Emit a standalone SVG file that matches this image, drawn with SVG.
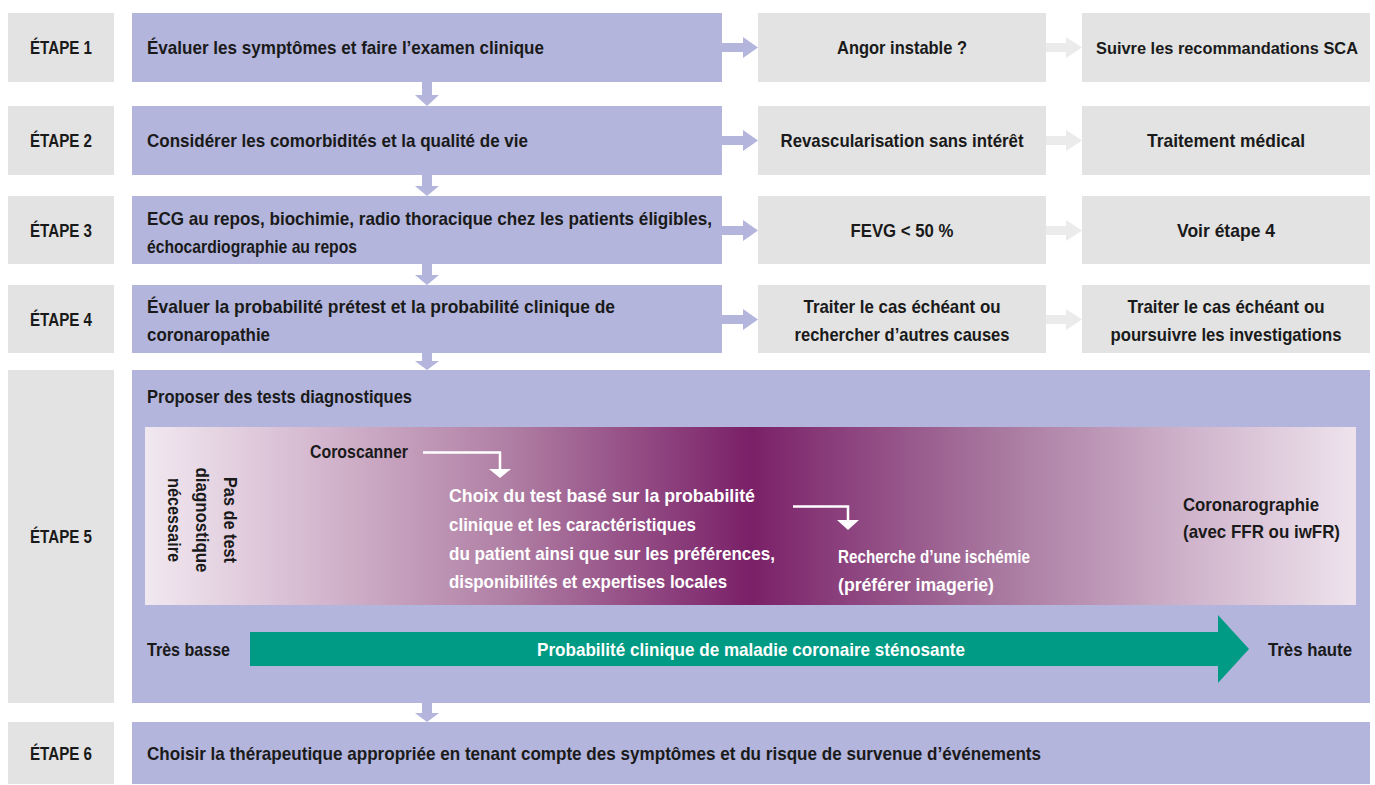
<svg xmlns="http://www.w3.org/2000/svg" width="1375" height="785" viewBox="0 0 1375 785">
<defs>
<linearGradient id="grad" x1="145" y1="0" x2="1356" y2="0" gradientUnits="userSpaceOnUse">
<stop offset="0" stop-color="#f1e8f0"/>
<stop offset="0.13" stop-color="#d7bcd2"/>
<stop offset="0.3" stop-color="#b07fa4"/>
<stop offset="0.5" stop-color="#7a2068"/>
<stop offset="0.7" stop-color="#a7769e"/>
<stop offset="0.87" stop-color="#d1b6cd"/>
<stop offset="1" stop-color="#eee3ed"/>
</linearGradient>
</defs>
<style>
.lab{fill:#e3e3e3}
.main{fill:#b3b5dc}
.opt{fill:#e3e3e3}
.t{font-family:"Liberation Sans",Arial,sans-serif;font-weight:bold;font-size:19px;fill:#1a1a1a}
.w{fill:#ffffff}
.c{text-anchor:middle}
.pa{fill:#b3b5dc}
.ga{fill:#ebebeb}
</style>
<rect width="1375" height="785" fill="#ffffff"/>

<g id="connectors">
<path class="pa" d="M422,82 H432 V95 H439 L427,106 L415,95 H422 Z"/>
<path class="pa" d="M422,175 H432 V186 H439 L427,196 L415,186 H422 Z"/>
<path class="pa" d="M422,264 H432 V275 H439 L427,285 L415,275 H422 Z"/>
<path class="pa" d="M422,353 H432 V361 H439 L427,370 L415,361 H422 Z"/>
<path class="pa" d="M422,703 H432 V713 H439 L427,722 L415,713 H422 Z"/>
<path class="pa" d="M722,43 H743 V37 L758,47.5 L743,58 V52 H722 Z"/>
<path class="pa" d="M722,136 H743 V130 L758,140.5 L743,151 V145 H722 Z"/>
<path class="pa" d="M722,226 H743 V220 L758,230.5 L743,241 V235 H722 Z"/>
<path class="pa" d="M722,315 H743 V309 L758,319.5 L743,330 V324 H722 Z"/>
<path class="ga" d="M1046,43 H1066 V37 L1082,47.5 L1066,58 V52 H1046 Z"/>
<path class="ga" d="M1046,136 H1066 V130 L1082,140.5 L1066,151 V145 H1046 Z"/>
<path class="ga" d="M1046,226 H1066 V220 L1082,230.5 L1066,241 V235 H1046 Z"/>
<path class="ga" d="M1046,315 H1066 V309 L1082,319.5 L1066,330 V324 H1046 Z"/>
</g>

<g id="etape1">
<rect class="lab" x="8" y="13" width="106" height="69"/>
<text class="t c" x="61" y="54" textLength="62" lengthAdjust="spacingAndGlyphs">ÉTAPE 1</text>
<rect class="main" x="132" y="13" width="590" height="69"/>
<text class="t" x="147" y="54" textLength="397" lengthAdjust="spacingAndGlyphs">Évaluer les symptômes et faire l’examen clinique</text>
</g>
<g id="angor">
<rect class="opt" x="758" y="13" width="288" height="69"/>
<text class="t c" x="902" y="54" textLength="130" lengthAdjust="spacingAndGlyphs">Angor instable ?</text>
</g>
<g id="sca">
<rect class="opt" x="1082" y="13" width="288" height="69"/>
<text class="t c" x="1227" y="54" style="font-size:17px" textLength="262" lengthAdjust="spacingAndGlyphs">Suivre les recommandations SCA</text>
</g>

<g id="etape2">
<rect class="lab" x="8" y="106" width="106" height="69"/>
<text class="t c" x="61" y="147" textLength="62" lengthAdjust="spacingAndGlyphs">ÉTAPE 2</text>
<rect class="main" x="132" y="106" width="590" height="69"/>
<text class="t" x="147" y="147" textLength="381" lengthAdjust="spacingAndGlyphs">Considérer les comorbidités et la qualité de vie</text>
</g>
<g id="revasc">
<rect class="opt" x="758" y="106" width="288" height="69"/>
<text class="t c" x="902" y="147" textLength="243" lengthAdjust="spacingAndGlyphs">Revascularisation sans intérêt</text>
</g>
<g id="traitement">
<rect class="opt" x="1082" y="106" width="288" height="69"/>
<text class="t c" x="1226" y="147" textLength="158" lengthAdjust="spacingAndGlyphs">Traitement médical</text>
</g>

<g id="etape3">
<rect class="lab" x="8" y="196" width="106" height="68"/>
<text class="t c" x="61" y="237" textLength="62" lengthAdjust="spacingAndGlyphs">ÉTAPE 3</text>
<rect class="main" x="132" y="196" width="590" height="68"/>
<text class="t" x="147" y="225" textLength="565" lengthAdjust="spacingAndGlyphs">ECG au repos, biochimie, radio thoracique chez les patients éligibles,</text>
<text class="t" x="147" y="253" textLength="210" lengthAdjust="spacingAndGlyphs">échocardiographie au repos</text>
</g>
<g id="fevg">
<rect class="opt" x="758" y="196" width="288" height="68"/>
<text class="t c" x="902" y="237" textLength="103" lengthAdjust="spacingAndGlyphs">FEVG &lt; 50 %</text>
</g>
<g id="voir4">
<rect class="opt" x="1082" y="196" width="288" height="68"/>
<text class="t c" x="1226" y="237" textLength="98" lengthAdjust="spacingAndGlyphs">Voir étape 4</text>
</g>

<g id="etape4">
<rect class="lab" x="8" y="285" width="106" height="68"/>
<text class="t c" x="61" y="326" textLength="62" lengthAdjust="spacingAndGlyphs">ÉTAPE 4</text>
<rect class="main" x="132" y="285" width="590" height="68"/>
<text class="t" x="147" y="313" textLength="468" lengthAdjust="spacingAndGlyphs">Évaluer la probabilité prétest et la probabilité clinique de</text>
<text class="t" x="147" y="341" textLength="123" lengthAdjust="spacingAndGlyphs">coronaropathie</text>
</g>
<g id="traiter1">
<rect class="opt" x="758" y="285" width="288" height="68"/>
<text class="t c" x="902" y="313" textLength="197" lengthAdjust="spacingAndGlyphs">Traiter le cas échéant ou</text>
<text class="t c" x="902" y="341" textLength="215" lengthAdjust="spacingAndGlyphs">rechercher d’autres causes</text>
</g>
<g id="traiter2">
<rect class="opt" x="1082" y="285" width="288" height="68"/>
<text class="t c" x="1226" y="313" textLength="197" lengthAdjust="spacingAndGlyphs">Traiter le cas échéant ou</text>
<text class="t c" x="1226" y="341" textLength="231" lengthAdjust="spacingAndGlyphs">poursuivre les investigations</text>
</g>

<g id="etape5">
<rect class="lab" x="8" y="370" width="106" height="333"/>
<text class="t c" x="61" y="543" textLength="62" lengthAdjust="spacingAndGlyphs">ÉTAPE 5</text>
<rect class="main" x="132" y="370" width="1238" height="333"/>
<text class="t" x="147" y="403" textLength="265" lengthAdjust="spacingAndGlyphs">Proposer des tests diagnostiques</text>
<rect x="145" y="427" width="1211" height="178" fill="url(#grad)"/>
<text class="t c" transform="translate(224,520) rotate(90)" textLength="86" lengthAdjust="spacingAndGlyphs">Pas de test</text>
<text class="t c" transform="translate(196,520) rotate(90)" textLength="105" lengthAdjust="spacingAndGlyphs">diagnostique</text>
<text class="t c" transform="translate(168,520) rotate(90)" textLength="84" lengthAdjust="spacingAndGlyphs">nécessaire</text>
<text class="t" x="310" y="458" textLength="98" lengthAdjust="spacingAndGlyphs">Coroscanner</text>
<path d="M423,452.5 H500 V470" fill="none" stroke="#ffffff" stroke-width="2.5"/>
<path d="M489,469 H511 L500,478 Z" fill="#ffffff"/>
<text class="t w" x="449" y="502" textLength="306" lengthAdjust="spacingAndGlyphs">Choix du test basé sur la probabilité</text>
<text class="t w" x="449" y="531" textLength="247" lengthAdjust="spacingAndGlyphs">clinique et les caractéristiques</text>
<text class="t w" x="449" y="560" textLength="326" lengthAdjust="spacingAndGlyphs">du patient ainsi que sur les préférences,</text>
<text class="t w" x="449" y="588" textLength="278" lengthAdjust="spacingAndGlyphs">disponibilités et expertises locales</text>
<path d="M793,506.5 H848 V521" fill="none" stroke="#ffffff" stroke-width="2.5"/>
<path d="M837,520 H859 L848,530 Z" fill="#ffffff"/>
<text class="t w" x="838" y="563" textLength="192" lengthAdjust="spacingAndGlyphs">Recherche d’une ischémie</text>
<text class="t w" x="838" y="591" textLength="156" lengthAdjust="spacingAndGlyphs">(préférer imagerie)</text>
<text class="t" x="1183" y="511" textLength="136" lengthAdjust="spacingAndGlyphs">Coronarographie</text>
<text class="t" x="1183" y="538" textLength="157" lengthAdjust="spacingAndGlyphs">(avec FFR ou iwFR)</text>
<text class="t" x="147" y="656" textLength="83" lengthAdjust="spacingAndGlyphs">Très basse</text>
<path d="M250,632 H1218 V615 L1249,649 L1218,683 V666 H250 Z" fill="#009b84"/>
<text class="t c w" x="751" y="656" textLength="428" lengthAdjust="spacingAndGlyphs">Probabilité clinique de maladie coronaire sténosante</text>
<text class="t" x="1268" y="656" textLength="84" lengthAdjust="spacingAndGlyphs">Très haute</text>
</g>

<g id="etape6">
<rect class="lab" x="8" y="722" width="106" height="62"/>
<text class="t c" x="61" y="760" textLength="62" lengthAdjust="spacingAndGlyphs">ÉTAPE 6</text>
<rect class="main" x="132" y="722" width="1238" height="62"/>
<text class="t" x="147" y="760" textLength="894" lengthAdjust="spacingAndGlyphs">Choisir la thérapeutique appropriée en tenant compte des symptômes et du risque de survenue d’événements</text>
</g>
</svg>
